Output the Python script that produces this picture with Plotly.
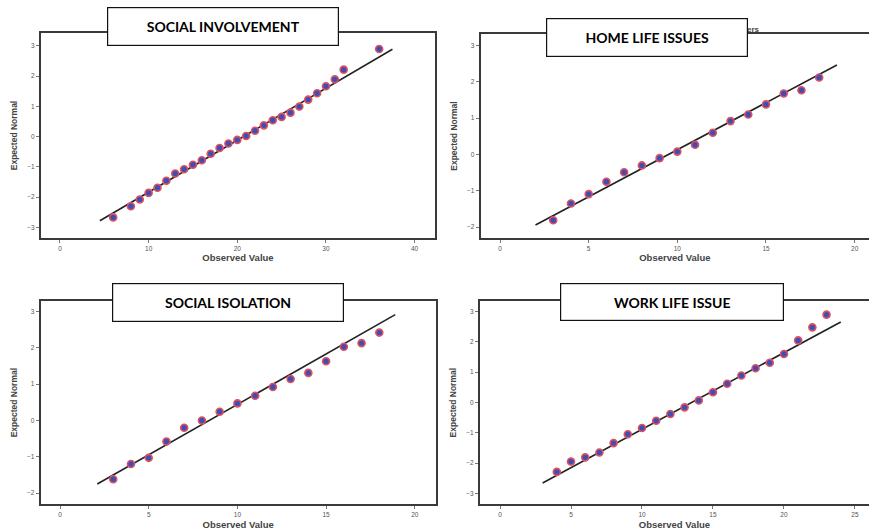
import plotly.graph_objects as go

# ---- data: Normal Q-Q plots (observed score vs expected normal value) ----
inv_obs = [6, 8, 9, 10, 11, 12, 13, 14, 15, 16, 17, 18, 19, 20, 21, 22, 23, 24,
           25, 26, 27, 28, 29, 30, 31, 32, 36]
inv_exp = [-2.67, -2.30, -2.08, -1.86, -1.69, -1.46, -1.22, -1.08, -0.93, -0.78,
           -0.57, -0.38, -0.23, -0.11, 0.02, 0.19, 0.37, 0.54, 0.65, 0.79, 0.99,
           1.22, 1.43, 1.66, 1.89, 2.21, 2.89]
inv_mean, inv_sd, inv_span = 20.7, 5.83, [4.5, 37.5]

home_obs = [3, 4, 5, 6, 7, 8, 9, 10, 11, 12, 13, 14, 15, 16, 17, 18]
home_exp = [-1.81, -1.35, -1.09, -0.75, -0.49, -0.30, -0.10, 0.08, 0.27, 0.60,
            0.92, 1.10, 1.38, 1.68, 1.77, 2.12]
home_mean, home_sd, home_span = 9.49, 3.86, [2.0, 19.0]

iso_obs = [3, 4, 5, 6, 7, 8, 9, 10, 11, 12, 13, 14, 15, 16, 17, 18]
iso_exp = [-1.62, -1.20, -1.03, -0.58, -0.20, 0.00, 0.24, 0.47, 0.68, 0.92,
           1.14, 1.31, 1.63, 2.03, 2.13, 2.42]
iso_mean, iso_sd, iso_span = 8.41, 3.60, [2.1, 18.9]

work_obs = [4, 5, 6, 7, 8, 9, 10, 11, 12, 13, 14, 15, 16, 17, 18, 19, 20, 21, 22, 23]
work_exp = [-2.29, -1.95, -1.81, -1.65, -1.34, -1.05, -0.84, -0.60, -0.38, -0.16,
            0.07, 0.34, 0.62, 0.89, 1.13, 1.31, 1.60, 2.05, 2.48, 2.90]
work_mean, work_sd, work_span = 13.5, 3.95, [3.0, 24.0]

titles = ["SOCIAL INVOLVEMENT", "HOME LIFE ISSUES", "SOCIAL ISOLATION", "WORK LIFE ISSUE"]

W, H = 869, 531


def px(x):
    return x / W


def py(y):
    return 1 - y / H


panels = [
    # data, line params, axis geometry (pixel frame), ranges, dtick, right border
    dict(obs=inv_obs, exp=inv_exp, mean=inv_mean, sd=inv_sd, span=inv_span,
         frame=(41, 33, 435, 238), xr=[-2.14, 42.3], yr=[-3.35, 3.42], dx=10, right=True),
    dict(obs=home_obs, exp=home_exp, mean=home_mean, sd=home_sd, span=home_span,
         frame=(480.7, 34.3, 869, 237.7), xr=[-1.09, 20.81], yr=[-2.29, 3.31], dx=5, right=False),
    dict(obs=iso_obs, exp=iso_exp, mean=iso_mean, sd=iso_sd, span=iso_span,
         frame=(40.7, 301, 435.7, 504.3), xr=[-1.09, 21.18], yr=[-2.31, 3.29], dx=5, right=True),
    dict(obs=work_obs, exp=work_exp, mean=work_mean, sd=work_sd, span=work_span,
         frame=(480, 301, 869, 504.3), xr=[-1.41, 25.99], yr=[-3.36, 3.35], dx=5, right=False),
]

boxes = [(107, 7, 339, 46), (545.7, 18.3, 747.7, 56.7),
         (112.3, 283.3, 344, 322.3), (560.3, 283.3, 784.3, 321)]

fig = go.Figure()
layout = dict(
    width=W, height=H, margin=dict(l=0, r=0, t=0, b=0),
    paper_bgcolor="white", plot_bgcolor="white", showlegend=False,
    font=dict(family="Liberation Sans, Arial, sans-serif", color="#333333"),
)
annotations = []

for i, p in enumerate(panels, start=1):
    xa = "x" if i == 1 else f"x{i}"
    ya = "y" if i == 1 else f"y{i}"
    x0, y0, x1, y1 = p["frame"]

    # reference line: expected normal = (value - mean) / sd
    lx = p["span"]
    ly = [(v - p["mean"]) / p["sd"] for v in lx]
    fig.add_trace(go.Scatter(x=lx, y=ly, mode="lines", xaxis=xa, yaxis=ya,
                             line=dict(color="#222222", width=1.6), hoverinfo="skip"))
    fig.add_trace(go.Scatter(x=p["obs"], y=p["exp"], mode="markers", xaxis=xa, yaxis=ya,
                             marker=dict(size=7, color="#3d4fb5",
                                         line=dict(color="#e0505f", width=1.6))))

    axis_common = dict(showgrid=False, zeroline=False, showline=True,
                       linecolor="#3a3a3a", linewidth=2, ticks="outside",
                       ticklen=3, tickwidth=1, tickcolor="#777777",
                       tickfont=dict(size=6.5, color="#555555"))
    layout["xaxis" if i == 1 else f"xaxis{i}"] = dict(
        axis_common, domain=[px(x0), px(x1)], range=p["xr"], dtick=p["dx"], tick0=0,
        anchor=ya, mirror=True,
        title=dict(text="<b>Observed Value</b>", standoff=4,
                   font=dict(size=9.5, color="#444444")))
    layout["yaxis" if i == 1 else f"yaxis{i}"] = dict(
        axis_common, domain=[py(y1), py(y0)], range=p["yr"], dtick=1, tick0=0,
        anchor=xa, mirror=p["right"],
        title=dict(text="<b>Expected Normal</b>", standoff=8,
                   font=dict(size=8.5, color="#444444")))

# remnant of the original chart heading peeking out beside the second label box
annotations.append(dict(text="<b>ers</b>", x=px(762), y=py(29), xref="paper", yref="paper",
                        xanchor="right", yanchor="middle", showarrow=False,
                        font=dict(size=8, color="#444444")))

for (bx0, by0, bx1, by1), t in zip(boxes, titles):
    annotations.append(dict(
        text=f"<b>{t}</b>", x=px((bx0 + bx1) / 2), y=py((by0 + by1) / 2),
        xref="paper", yref="paper", xanchor="center", yanchor="middle",
        showarrow=False, width=bx1 - bx0 - 2, height=by1 - by0 - 2,
        bgcolor="white", bordercolor="#111111", borderwidth=1.2, borderpad=0,
        font=dict(family="Lato, Carlito, sans-serif", size=14, color="black")))

layout["annotations"] = annotations
fig.update_layout(**layout)
fig.write_html("out.html")
